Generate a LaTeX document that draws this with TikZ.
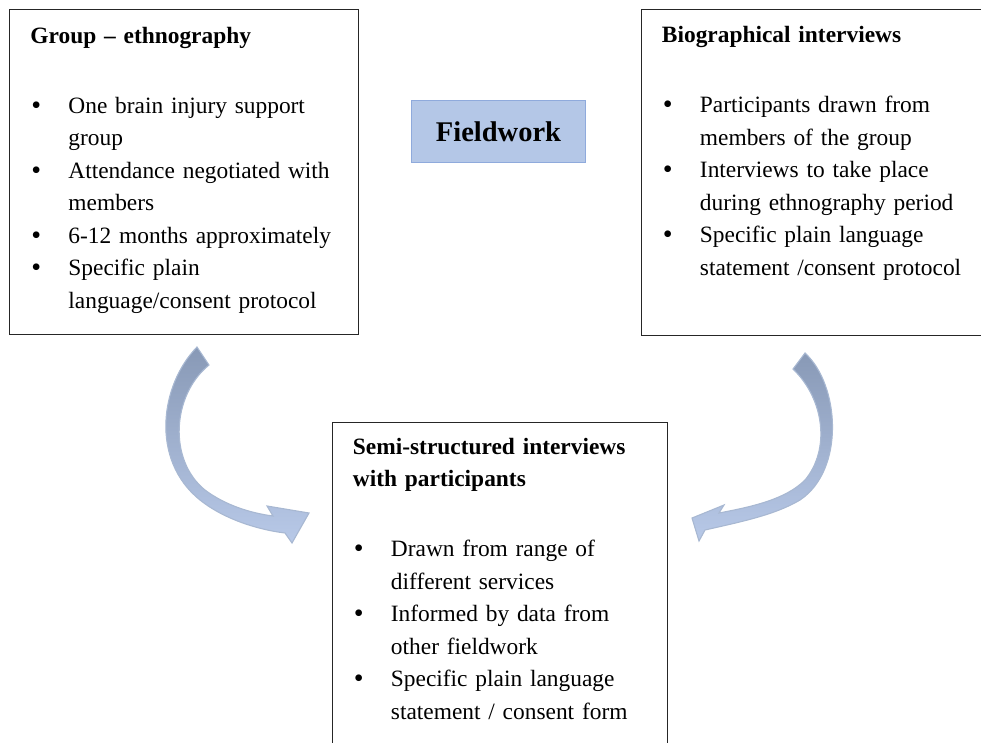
\documentclass[tikz,border=0pt]{standalone}
\usepackage{fontspec}
\setmainfont{Liberation Serif}
\usepackage{xcolor}
\usepackage{tikz}
\usetikzlibrary{positioning}

\definecolor{fieldblue}{RGB}{180,199,231}
\definecolor{fieldedge}{RGB}{143,170,220}
\definecolor{curldark}{RGB}{136,153,182}
\definecolor{curllight}{RGB}{184,201,232}
\definecolor{curlrim}{RGB}{168,184,210}

\newcommand{\fwhead}[1]{\noindent\mbox{\textbf{#1}}\par}
\newcommand{\fwitem}[1]{\noindent\makebox[38pt][l]{\hspace{1pt}\raisebox{-1pt}{\fontsize{28}{28}\selectfont\textbullet}}\mbox{#1}\par}
\newcommand{\fwcont}[1]{\noindent\hspace*{38pt}\mbox{#1}\par}

\begin{document}
\begin{tikzpicture}[
    x=1pt, y=-1pt,
    panel/.style={draw=black!85, line width=0.9pt, anchor=base west, align=left, inner xsep=21pt, inner ysep=0pt, font=\fontsize{23.4}{32.5}\selectfont, execute at begin node={\raggedright}},
    hub/.style={draw=fieldedge, fill=fieldblue, line width=0.8pt, minimum width=174pt, minimum height=62pt, inner sep=0pt, font=\fontsize{28.5}{34}\selectfont\bfseries},
    curl/.style={draw=curlrim, line width=1.1pt, top color=curldark, middle color=curldark!45!curllight, bottom color=curllight}
]
    \useasboundingbox (0,0) rectangle (981,742);

    % group ethnography
    \node[panel, text width=307pt, text height=34pt, text depth=291pt] (ethno) at (9,43) {%
        \fwhead{Group – ethnography}\vspace{37.5pt}
        \fwitem{One brain injury support}
        \fwcont{group}
        \fwitem{Attendance negotiated with}
        \fwcont{members}
        \fwitem{6-12 months approximately}
        \fwitem{Specific plain}
        \fwcont{language/consent protocol}};

    % centre label
    \node[hub] (fieldwork) at (498.5,131.5) {Fieldwork};

    % biographical interviews
    \node[panel, text width=307pt, text height=33pt, text depth=293pt] (bio) at (640.5,42.5) {%
        \fwhead{Biographical interviews}\vspace{37.5pt}
        \fwitem{Participants drawn from}
        \fwcont{members of the group}
        \fwitem{Interviews to take place}
        \fwcont{during ethnography period}
        \fwitem{Specific plain language}
        \fwcont{statement /consent protocol}};

    % semi-structured interviews
    \node[panel, text width=293pt, text height=32pt, text depth=330pt] (semi) at (331.5,454) {%
        \fwhead{Semi-structured interviews}
        \fwhead{with participants}\vspace{37.5pt}
        \fwitem{Drawn from range of}
        \fwcont{different services}
        \fwitem{Informed by data from}
        \fwcont{other fieldwork}
        \fwitem{Specific plain language}
        \fwcont{statement / consent form}};

    % curved arrows
    \draw[curl] (197,347) .. controls (160,385) and (150,460) .. (200,500)
        .. controls (225,520) and (260,530) .. (285,533)
        -- (292,543) -- (309,513) -- (267,506) -- (273,516)
        .. controls (250,513) and (225,505) .. (205,490)
        .. controls (168,460) and (172,395) .. (209,365) -- cycle;
    \draw[curl] (805,353) .. controls (840,385) and (845,470) .. (800,500)
        .. controls (775,515) and (740,522) .. (705,530)
        -- (699,541) -- (692,518) -- (724,505) -- (719,513)
        .. controls (750,507) and (785,500) .. (805,480)
        .. controls (830,450) and (825,400) .. (793,369) -- cycle;
\end{tikzpicture}
\end{document}
